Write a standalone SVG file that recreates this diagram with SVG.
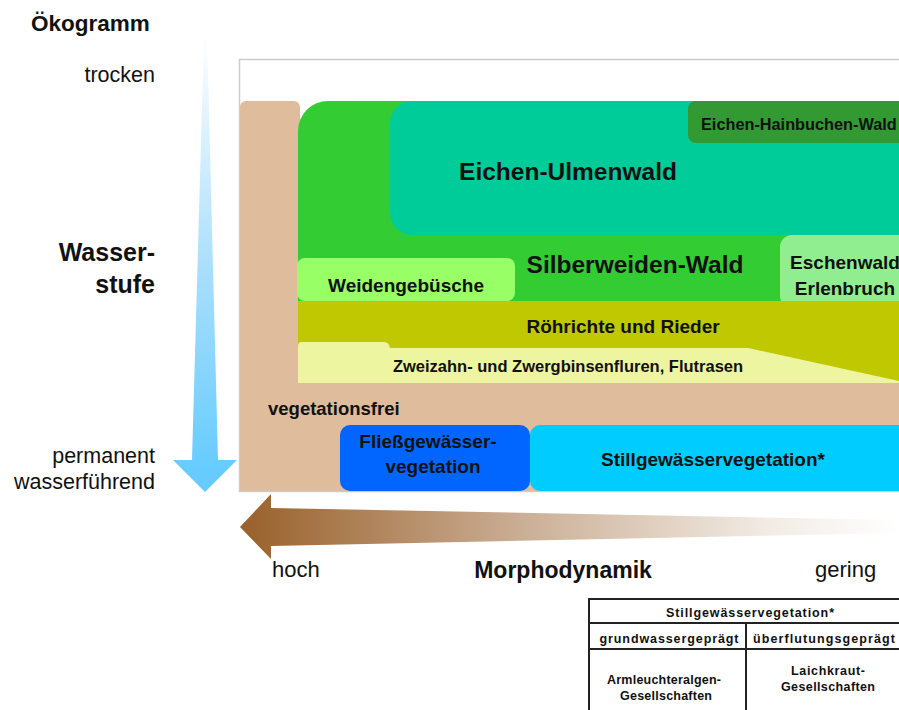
<svg xmlns="http://www.w3.org/2000/svg" width="899" height="710" viewBox="0 0 899 710">
<style>
text{font-family:"Liberation Sans",Arial,sans-serif;fill:#111;}
.b{font-weight:bold;}
.m{text-anchor:middle;}
.e{text-anchor:end;}
.l19{font-size:19px;font-weight:bold;text-anchor:middle;}
.big{font-size:24.5px;font-weight:bold;text-anchor:middle;}
.ax{font-size:21.5px;}
.tb{font-size:12.5px;font-weight:bold;text-anchor:middle;}
.tl{stroke:#222;stroke-width:2;fill:none;}
</style>
<defs>
<linearGradient id="gBlue" x1="0" y1="35" x2="0" y2="470" gradientUnits="userSpaceOnUse">
<stop offset="0" stop-color="#ffffff"/>
<stop offset="0.55" stop-color="#a8defc"/>
<stop offset="1" stop-color="#66ccff"/>
</linearGradient>
<linearGradient id="gBrown" x1="240" y1="0" x2="899" y2="0" gradientUnits="userSpaceOnUse">
<stop offset="0" stop-color="#99602a"/>
<stop offset="0.45" stop-color="#cdb29a"/>
<stop offset="0.8" stop-color="#f2ebe4"/>
<stop offset="1" stop-color="#ffffff"/>
</linearGradient>
</defs>

<g id="labels">
<text x="31" y="31" class="b" font-size="22.5">Ökogramm</text>
<text x="155" y="82" class="e ax">trocken</text>
<text x="155" y="261" class="e b" font-size="25">Wasser-</text>
<text x="155" y="293" class="e b" font-size="25">stufe</text>
<text x="155" y="463" class="e ax">permanent</text>
<text x="155" y="489" class="e ax">wasserführend</text>
<text x="272" y="577" font-size="22">hoch</text>
<text x="563" y="578" class="b m" font-size="23">Morphodynamik</text>
<text x="815" y="577" font-size="22">gering</text>
</g>

<g id="frame">
<rect x="239.5" y="59.5" width="700" height="432" fill="#ffffff" stroke="#cccccc" stroke-width="1.5"/>
</g>

<g id="vegetationsfrei">
<rect x="240" y="101" width="60" height="390" rx="6" fill="#dfbc9c"/>
<rect x="240" y="378" width="700" height="113" fill="#dfbc9c"/>
<text x="268" y="415" class="b" font-size="18.5">vegetationsfrei</text>
</g>

<g id="silberweiden-wald">
<path d="M298,301 V131 A30,30 0 0 1 328,101 H940 V301 Z" fill="#33cc33"/>
<text x="635" y="273" class="big">Silberweiden-Wald</text>
</g>

<g id="eichen-ulmenwald">
<rect x="390" y="101" width="560" height="134" rx="22" fill="#00cc99"/>
<text x="568" y="180" class="big">Eichen-Ulmenwald</text>
</g>

<g id="eichen-hainbuchen-wald">
<rect x="688" y="101" width="260" height="42" rx="8" fill="#339933"/>
<text x="701" y="130" class="b" font-size="16.3">Eichen-Hainbuchen-Wald</text>
</g>

<g id="eschenwald-erlenbruch">
<rect x="780" y="235" width="170" height="73" rx="12" fill="#90ee90"/>
<text x="845" y="269" class="l19">Eschenwald</text>
<text x="845" y="295" class="l19">Erlenbruch</text>
</g>

<g id="weidengebuesche">
<rect x="297" y="258" width="218" height="43" rx="8" fill="#99ff66"/>
<text x="406" y="292" class="l19">Weidengebüsche</text>
</g>

<g id="roehrichte">
<rect x="298" y="301" width="650" height="80" fill="#bfc800"/>
<text x="623" y="333" class="l19">Röhrichte und Rieder</text>
</g>

<g id="zweizahn">
<path d="M298,383 V346 Q298,342 302,342 H384 Q389,342 390,348 H748 L899,381 V383 Z" fill="#eef5a0"/>
<text x="568" y="372" class="b m" font-size="16.5">Zweizahn- und Zwergbinsenfluren, Flutrasen</text>
</g>

<g id="fliessgewaesser">
<rect x="340" y="425" width="190" height="66" rx="10" fill="#0066ff"/>
<text x="428" y="448" class="l19">Fließgewässer-</text>
<text x="433" y="473" class="l19">vegetation</text>
</g>

<g id="stillgewaesser">
<rect x="530" y="425" width="420" height="66" rx="10" fill="#00ccff"/>
<text x="713" y="466" class="l19">Stillgewässervegetation*</text>
</g>

<g id="connectors">
<polygon points="204,35 207,35 218,460 237,460 205,492 173,460 192,460" fill="url(#gBlue)"/>
<polygon points="240,527 271,494 271,508 899,520 899,533 271,546 271,559" fill="url(#gBrown)"/>
</g>

<g id="tabelle">
<rect x="589" y="599" width="330" height="130" class="tl"/>
<line x1="589" y1="623" x2="919" y2="623" class="tl"/>
<line x1="589" y1="649" x2="919" y2="649" class="tl"/>
<line x1="746" y1="623" x2="746" y2="729" class="tl"/>
<text x="750" y="617" class="tb" textLength="168">Stillgewässervegetation*</text>
<text x="669" y="643" class="tb" textLength="139">grundwassergeprägt</text>
<text x="824" y="643" class="tb" textLength="142">überflutungsgeprägt</text>
<text x="664" y="684" class="tb" textLength="114">Armleuchteralgen-</text>
<text x="666" y="700" class="tb" textLength="92">Gesellschaften</text>
<text x="828" y="675" class="tb" textLength="74">Laichkraut-</text>
<text x="828" y="691" class="tb" textLength="94">Gesellschaften</text>
</g>
</svg>
